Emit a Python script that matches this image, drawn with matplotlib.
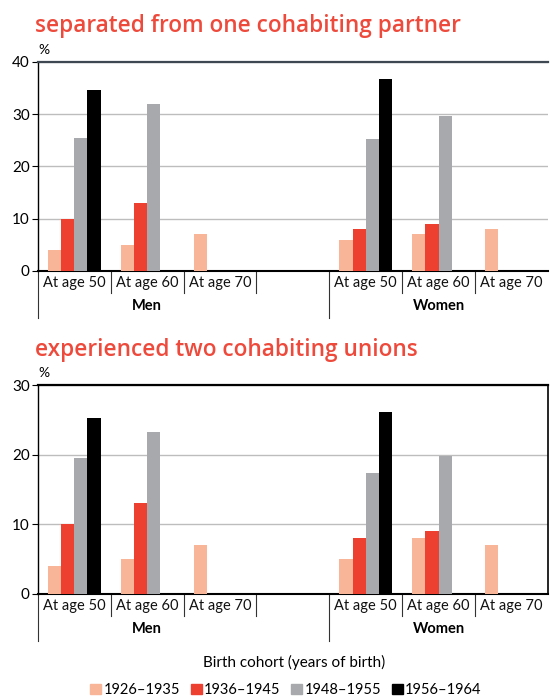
import numpy as np
import matplotlib
matplotlib.use("Agg")
import matplotlib.pyplot as plt
from matplotlib.patches import Patch

plt.rcParams['font.family'] = ['Lato', 'DejaVu Sans']

# data: order is Men 50, Men 60, Men 70, Women 50, Women 60, Women 70
nan = np.nan
cohorts = ['1926\u20131935', '1936\u20131945', '1948\u20131955', '1956\u20131964']
ages = ['At age 50', 'At age 60', 'At age 70']
groups = ['Men', 'Women']

sep_1926 = [4, 5, 7, 6, 7, 8]
sep_1936 = [10, 13, nan, 8, 9, nan]
sep_1948 = [25.4, 31.9, nan, 25.2, 29.6, nan]
sep_1956 = [34.6, nan, nan, 36.8, nan, nan]

two_1926 = [4, 5, 7, 5, 8, 7]
two_1936 = [10, 13, nan, 8, 9, nan]
two_1948 = [19.5, 23.2, nan, 17.4, 19.8, nan]
two_1956 = [25.2, nan, nan, 26.1, nan, nan]

colors = ['#f9b598', '#ee4030', '#a7a9ac', '#000000']
title_red = '#ee4a3c'

# slot positions: 3 men slots, one empty slot, 3 women slots
slots = np.array([0, 1, 2, 4, 5, 6])
bw = 0.18


def draw_panel(ax, series, ymax, title, top_color, right_spine):
    for i, vals in enumerate(series):
        x = slots + (i - 1.5) * bw
        v = np.array(vals, dtype=float)
        ok = ~np.isnan(v)
        ax.bar(x[ok], v[ok], width=bw, color=colors[i], zorder=3)
    ax.set_xlim(-0.5, 6.5)
    ax.set_ylim(0, ymax)
    ax.set_yticks(np.arange(0, ymax + 1, 10))
    ax.yaxis.grid(True, color='#bdbdbd', lw=1)
    ax.set_axisbelow(True)
    ax.set_xticks([])
    ax.tick_params(axis='y', length=4, labelsize=11, pad=2)
    ax.spines['top'].set_color(top_color)
    ax.spines['top'].set_linewidth(1.6)
    ax.spines['bottom'].set_linewidth(1.5)
    ax.spines['left'].set_linewidth(1.0)
    ax.spines['right'].set_visible(right_spine)
    ax.spines['right'].set_linewidth(1.2)
    tr = ax.get_xaxis_transform()
    # age labels
    for j, s in enumerate(slots):
        ax.text(s, -0.06, ages[j % 3], transform=tr, ha='center', va='center',
                fontsize=10.5, color='#111111')
    # short separators
    for b in [0.5, 1.5, 2.5, 4.5, 5.5]:
        ax.plot([b, b], [0, -0.105], transform=tr, color='#333333', lw=0.8,
                clip_on=False)
    # long separators
    for b in [-0.5, 3.5]:
        ax.plot([b, b], [0, -0.225], transform=tr, color='#333333', lw=0.8,
                clip_on=False)
    ax.text(1, -0.17, groups[0], transform=tr, ha='center', va='center',
            fontsize=10.5, fontweight='bold')
    ax.text(5, -0.17, groups[1], transform=tr, ha='center', va='center',
            fontsize=10.5, fontweight='bold')
    ax.text(0.0, 1.03, '%', transform=ax.transAxes, ha='left', va='bottom',
            fontsize=10)
    ax.text(-0.006, 1.17, title, transform=ax.transAxes, ha='left',
            va='center', fontsize=16.3, color=title_red, fontweight='semibold',
            family=['Open Sans', 'DejaVu Sans'])


fig = plt.figure(figsize=(5.5, 7), dpi=100)
ax1 = fig.add_axes([0.069, 0.613, 0.927, 0.2986])
ax2 = fig.add_axes([0.069, 0.152, 0.927, 0.298])

draw_panel(ax1, [sep_1926, sep_1936, sep_1948, sep_1956], 40,
           'separated from one cohabiting partner', '#3d4852', False)
draw_panel(ax2, [two_1926, two_1936, two_1948, two_1956], 30,
           'experienced two cohabiting unions', '#000000', True)

handles = [Patch(color=c, label=l) for c, l in zip(colors, cohorts)]
fig.legend(handles=handles, loc='center', bbox_to_anchor=(0.52, 0.0143),
           ncol=4, frameon=False, fontsize=10.5, handlelength=0.75,
           handleheight=0.75, handletextpad=0.15, columnspacing=0.75)
fig.text(0.535, 0.053, 'Birth cohort (years of birth)', ha='center',
         va='center', fontsize=11)

fig.savefig('out.png', dpi=100)
